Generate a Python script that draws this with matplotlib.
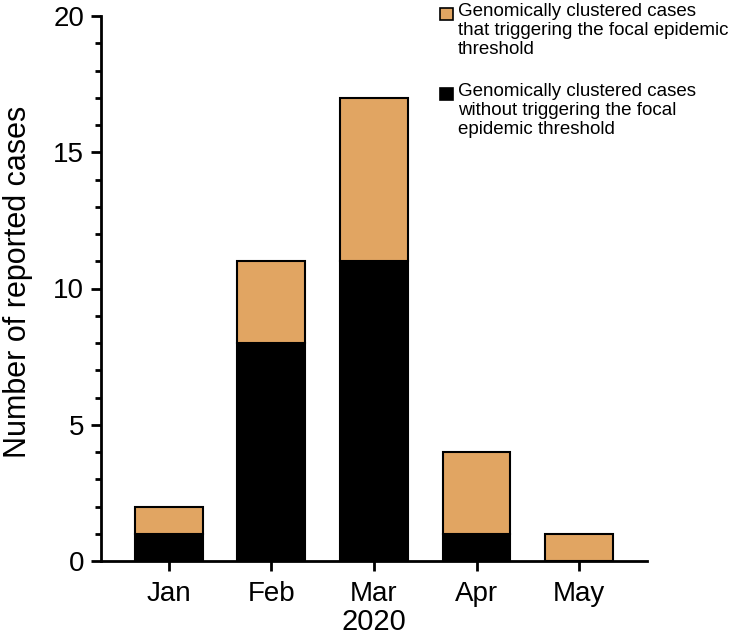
import matplotlib
matplotlib.use("Agg")
import matplotlib.pyplot as plt
from matplotlib.patches import Rectangle
import numpy as np

plt.rcParams["font.family"] = ["Liberation Sans", "DejaVu Sans"]

months = ["Jan", "Feb", "Mar", "Apr", "May"]
without_trigger = [1, 8, 11, 1, 0]   # black, bottom
with_trigger = [1, 3, 6, 3, 1]       # orange, stacked on top

lab_trigger = "Genomically clustered cases\nthat triggering the focal epidemic\nthreshold"
lab_without = "Genomically clustered cases\nwithout triggering the focal\nepidemic threshold"

orange = "#E1A562"
W, H = 736, 640

fig = plt.figure(figsize=(W / 100, H / 100), dpi=100)
ax = fig.add_axes([101 / W, 79 / H, 546 / W, 545 / H])

x = np.arange(len(months))
ax.bar(x, without_trigger, width=0.66, color="black", edgecolor="black", lw=1.5)
ax.bar(x, with_trigger, width=0.66, bottom=without_trigger, color=orange,
       edgecolor="black", lw=1.5)

ax.set_xlim(-0.66, 4.66)
ax.set_ylim(0, 20)
ax.set_xticks(x)
ax.set_xticklabels(months, fontsize=20)
ax.set_yticks([0, 5, 10, 15, 20])
ax.set_yticks(np.arange(0, 21, 1), minor=True)
ax.tick_params(axis="y", which="major", length=7.2, width=2, labelsize=20, pad=5)
ax.tick_params(axis="y", which="minor", length=4.3, width=2)
ax.tick_params(axis="x", which="major", length=7.2, width=2, pad=7)
ax.spines["top"].set_visible(False)
ax.spines["right"].set_visible(False)
for s in ("left", "bottom"):
    ax.spines[s].set_linewidth(2)
ax.set_ylabel("Number of reported cases", fontsize=22)
ax.yaxis.set_label_coords(-0.125, 0.513)
ax.set_xlabel("2020", fontsize=21, labelpad=1)

# legend drawn by hand: square aligned to first line of each wrapped label
entries = [(orange, lab_trigger, 8), ("black", lab_without, 88)]
for col, lab, ytop in entries:
    fig.add_artist(Rectangle((440 / W, 1 - (ytop + 12) / H), 13 / W, 12 / H,
                             transform=fig.transFigure, facecolor=col,
                             edgecolor="black", lw=1.2))
    fig.text(458 / W, 1 - (ytop - 4.5) / H, lab, fontsize=13.5, va="top",
             ha="left", linespacing=1.15)

fig.savefig("out.png", dpi=100)
